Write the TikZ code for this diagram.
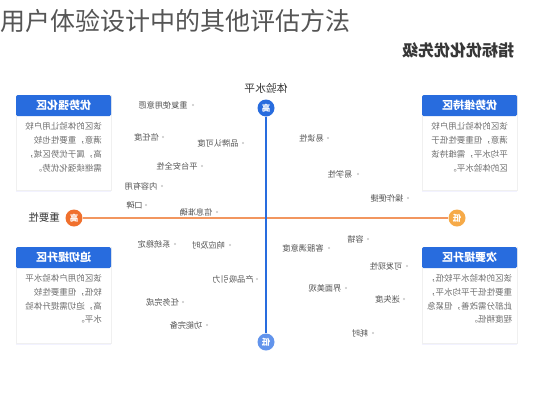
\documentclass[tikz,border=0pt]{standalone}
\usepackage{fontspec}
\setmainfont{Noto Sans CJK SC}
\usetikzlibrary{shadows}
\definecolor{blueA}{RGB}{40,108,222}
\definecolor{blueB}{RGB}{98,148,236}
\definecolor{oraA}{RGB}{240,112,45}
\definecolor{oraB}{RGB}{246,170,72}
\definecolor{oraLine}{RGB}{242,150,95}
\definecolor{txt}{RGB}{85,85,85}
\definecolor{bodytxt}{RGB}{110,110,110}
\definecolor{ttl}{RGB}{55,55,55}
\begin{document}
\begin{tikzpicture}[x=1pt,y=-1pt,
  mir/.style={xscale=-1},
  lbl/.style={mir,inner sep=0,text=txt,font=\fontsize{8.2}{9}\selectfont},
  pt/.style={circle,fill=gray!45,inner sep=0,minimum size=2.4pt},
  bar/.style={fill=blueA,minimum width=95pt,minimum height=21pt,inner sep=0,text=white,font=\fontsize{11}{12}\selectfont\bfseries,mir,rounded corners=1.5pt},
  body/.style={fill=white,draw=black!6,minimum width=95pt,inner sep=0,drop shadow={shadow xshift=0pt,shadow yshift=-1.5pt,opacity=0.12,fill=blue!40}},
  btxt/.style={mir,inner sep=0,align=left,text=bodytxt,font=\fontsize{8.5}{13.8}\selectfont},
  axc/.style={circle,inner sep=0,minimum size=17pt,text=white,font=\fontsize{8.5}{9}\selectfont\bfseries,mir},
  axl/.style={mir,inner sep=0,text=ttl,font=\fontsize{10.8}{12}\selectfont},
]
\useasboundingbox (0,0) rectangle (533,400);
\fill[white] (0,0) rectangle (533,400);

% title and header
\node[anchor=west,inner sep=0,text=ttl!85,font=\fontsize{25}{28}\selectfont] (title) at (0,21) {用户体验设计中的其他评估方法};
\node[mir,inner sep=0,text=ttl,font=\fontsize{16}{18}\selectfont\bfseries] (head) at (458,50) {指标优化优先级};

% boxes
\node[body,minimum height=95pt] (b1) at (63.5,142.5) {};
\node[bar] (t1) at (63.5,105.5) {优势强化区};
\node[btxt,anchor=north] (x1) at (63.5,122.5) {该区的体验让用户较\\满意，重要性也较\\高，属于优势区域，\\需继续强化优势。};

\node[body,minimum height=95pt] (b2) at (469.5,142.5) {};
\node[bar] (t2) at (469.5,105.5) {优势维持区};
\node[btxt,anchor=north] (x2) at (469.5,122.5) {该区的体验让用户较\\满意，但重要性低于\\平均水平，需维持该\\区的体验水平。};

\node[body,minimum height=96pt] (b3) at (63.5,295) {};
\node[bar] (t3) at (63.5,257.5) {迫切提升区};
\node[btxt,anchor=north] (x3) at (63.5,274) {该区的用户体验水平\\较低，但重要性较\\高，迫切需提升体验\\水平。};

\node[body,minimum height=96pt] (b4) at (469.5,295) {};
\node[bar] (t4) at (469.5,257.5) {次要提升区};
\node[btxt,anchor=north] (x4) at (469.5,274) {该区的体验水平较低，\\重要性低于平均水平，\\此部分需改善，但紧急\\程度稍低。};

% axes
\node[axc,fill=blueA] (vt) at (266,108) {高};
\node[axc,fill=blueB] (vb) at (266,342) {低};
\node[axc,fill=oraA] (hl) at (74,218) {高};
\node[axc,fill=oraB] (hr) at (457,218) {低};
\draw[oraLine,line width=1.3pt] (hl) -- (hr);
\draw[blueA,line width=1.3pt] (vt) -- (vb);
\node[axl] (vlab) at (266,88) {体验水平};
\node[axl,font=\fontsize{10.5}{12}\selectfont] (hlab) at (44,218) {重要性};

% scatter labels
\node[lbl] (l1) at (163,105) {重复使用意愿}; \node[pt] (d1) at (193,105) {};
\node[lbl] (l2) at (146.5,137) {信任度}; \node[pt] (d2) at (163,137) {};
\node[lbl] (l3) at (218,143) {品牌认可度}; \node[pt] (d3) at (243,143) {};
\node[lbl] (l4) at (177,166) {平台安全性}; \node[pt] (d4) at (202,166) {};
\node[lbl] (l5) at (141,186) {内容有用}; \node[pt] (d5) at (162,186) {};
\node[lbl] (l6) at (134.5,205) {口碑}; \node[pt] (d6) at (146,205) {};
\node[lbl] (l7) at (196,212) {信息准确}; \node[pt] (d7) at (217,212) {};
\node[lbl] (l8) at (311.5,138) {易读性}; \node[pt] (d8) at (328,138) {};
\node[lbl] (l9) at (340,174) {易学性}; \node[pt] (d9) at (358,174) {};
\node[lbl] (l10) at (387,198) {操作便捷}; \node[pt] (d10) at (408,198) {};
\node[lbl] (l11) at (154,244) {系统稳定}; \node[pt] (d11) at (175,244) {};
\node[lbl] (l12) at (208.5,245) {响应及时}; \node[pt] (d12) at (230,245) {};
\node[lbl] (l13) at (233,279) {产品吸引力}; \node[pt] (d13) at (257,279) {};
\node[lbl] (l14) at (162.5,302) {任务完成}; \node[pt] (d14) at (183,302) {};
\node[lbl] (l15) at (186,325) {功能完备}; \node[pt] (d15) at (207,325) {};
\node[lbl] (l16) at (303,248) {客服满意度}; \node[pt] (d16) at (329,248) {};
\node[lbl] (l17) at (355.5,239) {容错}; \node[pt] (d17) at (368,239) {};
\node[lbl] (l18) at (386,266) {可发现性}; \node[pt] (d18) at (407,266) {};
\node[lbl] (l19) at (325,288) {界面美观}; \node[pt] (d19) at (346,288) {};
\node[lbl] (l20) at (387.5,299) {迷失度}; \node[pt] (d20) at (404,299) {};
\node[lbl] (l21) at (360,333) {耗时}; \node[pt] (d21) at (373,333) {};
\end{tikzpicture}
\end{document}
